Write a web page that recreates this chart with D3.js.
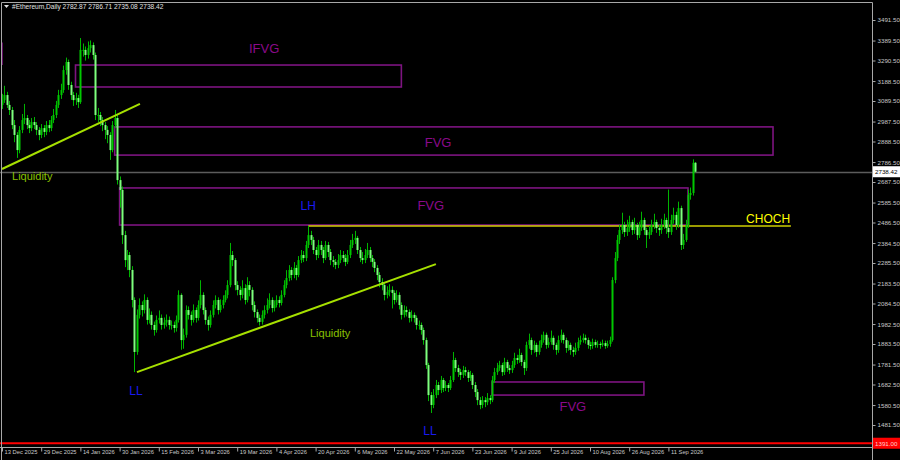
<!DOCTYPE html>
<html><head><meta charset="utf-8">
<script src="https://cdn.jsdelivr.net/npm/d3@7/dist/d3.min.js"></script>
<style>
html,body{margin:0;padding:0;background:#000;overflow:hidden;}
svg{display:block;}
text{font-family:"Liberation Sans",Arial,sans-serif;}
</style></head>
<body><svg id="c" width="900" height="460"></svg>
<script>
// ---------- DATA ----------
const symbol = "#Ethereum,Daily";
const ohlcLast = ["2782.87","2786.71","2735.08","2738.42"];
const firstOpen = 3070;
const closes = [3094,3119,3070,3045,2970,2921,2846,2946,2995,3005,2970,2955,2985,2970,2946,2921,2955,2936,2970,2955,
2995,3020,3070,3119,3144,3243,3283,3169,3119,3094,3104,3084,3343,3343,3318,3352,3367,3318,3020,3020,
2995,2970,2946,2921,2846,2970,3005,2697,2648,2424,2300,2325,2251,2102,1844,2028,2077,2052,2102,2003,
2028,1978,1953,2003,2013,1978,1990,2003,1978,1978,1963,2003,2127,1903,1929,2052,2028,2003,2052,2013,
2077,2127,2052,2003,1978,2028,2077,2102,2052,2077,2102,2127,2176,2325,2300,2176,2152,2127,2161,2102,
2176,2152,2077,2042,2013,1993,2028,2052,2077,2102,2062,2077,2102,2087,2127,2176,2211,2251,2226,2261,
2226,2300,2325,2310,2375,2424,2400,2350,2325,2375,2350,2310,2375,2340,2300,2291,2276,2300,2325,2310,
2291,2325,2375,2400,2410,2350,2310,2300,2325,2350,2310,2291,2261,2226,2191,2176,2127,2142,2152,2137,
2102,2127,2077,2028,2052,2042,2013,2028,2013,1978,1978,1953,1903,1779,1630,1581,1630,1680,1655,1705,
1665,1680,1665,1705,1804,1764,1744,1730,1754,1744,1715,1730,1680,1645,1605,1581,1605,1595,1615,1605,
1705,1744,1764,1779,1744,1794,1764,1754,1779,1814,1804,1829,1794,1764,1879,1903,1854,1879,1844,1879,
1903,1929,1879,1893,1914,1879,1854,1903,1929,1903,1864,1879,1854,1844,1864,1893,1903,1914,1903,1879,
1874,1893,1879,1884,1879,1888,1874,1884,1903,2201,2310,2400,2449,2474,2439,2459,2489,2449,2474,2424,
2459,2499,2449,2424,2439,2474,2489,2459,2449,2474,2499,2459,2439,2499,2524,2474,2558,2375,2400,2474,
2623,2633,2782.87,2738.42];
const highs = [3125,3165,3135,3090,3060,2995,2935,2965,3025,3075,3020,2995,3005,3010,2985,2960,2975,2970,2990,2995,
3015,3050,3090,3145,3175,3265,3305,3295,3185,3135,3130,3120,3402,3375,3360,3385,3390,3380,3330,3055,
3035,3010,2985,2965,2935,2990,3045,3020,2715,2665,2445,2350,2340,2270,2115,2055,2110,2095,2130,2115,
2060,2045,1995,2025,2050,2030,2015,2030,2020,2000,1995,2025,2150,2135,1960,2075,2070,2045,2080,2065,
2100,2200,2140,2065,2020,2050,2100,2125,2115,2105,2125,2150,2200,2385,2345,2310,2195,2170,2200,2180,
2215,2195,2165,2095,2055,2030,2050,2075,2110,2135,2115,2100,2125,2120,2150,2200,2250,2275,2265,2290,
2275,2320,2350,2345,2395,2470,2445,2415,2365,2400,2395,2365,2395,2390,2355,2320,2305,2330,2350,2345,
2330,2350,2400,2430,2445,2420,2365,2340,2355,2385,2365,2325,2305,2275,2240,2210,2190,2170,2180,2170,
2150,2150,2140,2090,2075,2070,2055,2050,2040,2025,2000,1990,1965,1915,1790,1645,1660,1705,1695,1725,
1715,1700,1690,1725,1844,1815,1780,1760,1775,1770,1755,1750,1740,1695,1660,1620,1625,1620,1640,1630,
1725,1765,1790,1800,1790,1815,1805,1780,1800,1840,1830,1860,1840,1805,1895,1935,1915,1900,1890,1900,
1930,1945,1940,1915,1950,1925,1890,1925,1955,1940,1915,1900,1890,1870,1890,1915,1925,1935,1930,1915,
1895,1910,1905,1900,1895,1905,1900,1900,1920,2215,2340,2425,2475,2535,2490,2500,2520,2500,2510,2485,
2490,2540,2510,2460,2470,2500,2530,2500,2475,2505,2530,2510,2650,2525,2560,2540,2590,2570,2430,2500,
2650,2660,2800,2786.71];
const lows = [3050,3080,3055,3020,2950,2885,2807,2830,2930,2975,2950,2930,2940,2950,2920,2895,2905,2910,2920,2935,
2940,2980,3005,3055,3100,3130,3220,3145,3095,3065,3070,3055,3075,3310,3290,3300,3330,3295,2995,2985,
2965,2940,2900,2880,2797,2835,2955,2675,2560,2380,2265,2250,2215,2065,1744,1830,2010,2020,2035,1980,
1985,1955,1925,1940,1985,1955,1960,1970,1955,1955,1940,1945,1990,1855,1860,1915,2005,1975,1990,1990,
2000,2060,2030,1980,1950,1965,2015,2060,2030,2040,2060,2090,2110,2165,2270,2150,2125,2100,2110,2080,
2090,2120,2050,2015,1990,1975,1980,2010,2035,2060,2040,2045,2065,2065,2075,2115,2160,2195,2200,2210,
2200,2215,2285,2290,2295,2360,2375,2330,2300,2310,2325,2285,2300,2315,2275,2265,2255,2260,2285,2290,
2270,2280,2310,2360,2380,2330,2290,2280,2285,2310,2290,2265,2240,2200,2165,2150,2100,2110,2120,2060,
2080,2090,2055,2005,2015,2020,1990,1995,1990,1955,1955,1930,1880,1760,1600,1541,1565,1615,1630,1640,
1645,1650,1645,1655,1695,1745,1720,1705,1715,1725,1695,1700,1660,1620,1580,1560,1565,1570,1580,1585,
1595,1690,1730,1750,1725,1730,1745,1735,1740,1765,1785,1790,1775,1730,1750,1860,1830,1840,1820,1830,
1865,1890,1860,1865,1880,1855,1830,1840,1890,1885,1840,1850,1830,1820,1830,1850,1880,1890,1885,1860,
1855,1860,1865,1865,1860,1870,1860,1865,1870,1895,2185,2295,2380,2430,2415,2420,2440,2425,2430,2400,
2410,2445,2425,2360,2405,2425,2455,2435,2420,2430,2455,2430,2410,2425,2480,2450,2460,2350,2355,2390,
2460,2600,2620,2735.08];
const priceTicks = ["3491.50","3389.50","3290.50","3188.50","3089.50","2987.50","2888.50","2786.50","2687.50","2585.50","2486.50",
"2384.50","2285.50","2183.50","2084.50","1982.50","1883.50","1781.50","1682.50","1580.50","1481.50"];
const dateTicks = ["13 Dec 2025","29 Dec 2025","14 Jan 2026","30 Jan 2026","15 Feb 2026","3 Mar 2026","19 Mar 2026","4 Apr 2026",
"20 Apr 2026","6 May 2026","22 May 2026","7 Jun 2026","23 Jun 2026","9 Jul 2026","25 Jul 2026","10 Aug 2026","26 Aug 2026","11 Sep 2026"];
const dateTickIdx = [0,16,32,48,64,80,96,112,128,144,160,176,192,208,224,240,256,272];
const currentPrice = 2738.42;
const redLevel = 1391.00;
const zoneNames = ["IFVG","FVG","FVG","FVG"];
const zoneStart = [30,46,48,200];
const zoneEnd = [163,314.7,280,262];
const zoneTop = [3268,2961,2658,1695];
const zoneBottom = [3159,2821,2474,1630];
const zoneLabelIdx = [107,178,175,233];
const zoneLabelPrice = [3328,2861,2549,1551];
const leftEdgeSeg = [3380,3268];
const liquidityLines = [[0,2752,56.3,3075],[55.1,1744,177.1,2280]];
const liquidityLabels = [[4.1,2697],[125.7,1918]];
const choch = {from:125,to:322,price:2469,labelIdx:312.7,labelPrice:2484};
const structLabels = [["LH",125,2549],["LL",54.7,1630],["LL",174.7,1432]];

// ---------- DRAW ----------
const svg = d3.select("#c");
const W=900,H=460, plotR=872, plotB=447, plotT=2;
const N = closes.length;
const x = d3.scaleLinear().domain([0,N-1]).range([2,2+(N-1)*2.45]);
const y = d3.scaleLinear().domain([1481.5,3491.5]).range([425,20]);

const root = svg.append("g");
root.append("rect").attr("width",W).attr("height",H).attr("fill","#000");

root.append("line").attr("x1",0).attr("x2",plotR).attr("y1",Math.round(y(currentPrice))+0.5).attr("y2",Math.round(y(currentPrice))+0.5)
  .attr("stroke","#5c5c5c").attr("stroke-width",1.5);

const zc = "#7d1480";
zoneNames.forEach((n,k)=>{
  const x0=x(zoneStart[k]), x1=x(zoneEnd[k]), y0=y(zoneTop[k]), y1=y(zoneBottom[k]);
  root.append("rect").attr("x",x0).attr("y",y0).attr("width",x1-x0).attr("height",y1-y0)
    .attr("fill","none").attr("stroke",zc).attr("stroke-width",1.6);
  root.append("text").attr("x",x(zoneLabelIdx[k])).attr("y",y(zoneLabelPrice[k])).attr("text-anchor","middle")
    .attr("fill","#8a0a8a").attr("font-size",13).text(n);
});
root.append("line").attr("x1",2).attr("x2",2).attr("y1",y(leftEdgeSeg[0])).attr("y2",y(leftEdgeSeg[1]))
  .attr("stroke",zc).attr("stroke-width",1.6);

root.append("line").attr("x1",x(choch.from)).attr("x2",x(choch.to)).attr("y1",y(choch.price)).attr("y2",y(choch.price))
  .attr("stroke","#e6e600").attr("stroke-width",1.5).attr("opacity",0.9);
root.append("text").attr("x",x(choch.labelIdx)).attr("y",y(choch.labelPrice)).attr("text-anchor","middle")
  .attr("fill","#ffff00").attr("font-size",12).text("CHOCH");

const g = root.append("g");
for(let i=0;i<N;i++){
  const o = i===0?firstOpen:closes[i-1], c=closes[i];
  const bull = c>=o;
  const cx = Math.round(x(i));
  g.append("line").attr("x1",cx+0.5).attr("x2",cx+0.5).attr("y1",y(highs[i])).attr("y2",y(lows[i]))
    .attr("stroke","#00b400").attr("stroke-width",1);
  const yt=y(Math.max(o,c)), yb=y(Math.min(o,c));
  g.append("rect").attr("x",cx-0.5).attr("y",yt).attr("width",2).attr("height",Math.max(1,yb-yt))
    .attr("fill",bull?"#00c800":"#7dff7d");
}

liquidityLines.forEach(l=>{
  root.append("line").attr("x1",x(l[0])).attr("y1",y(l[1])).attr("x2",x(l[2])).attr("y2",y(l[3]))
    .attr("stroke","#a6e000").attr("stroke-width",2);
});
liquidityLabels.forEach(l=>{
  root.append("text").attr("x",x(l[0])).attr("y",y(l[1])).attr("fill","#8ac000").attr("font-size",11).text("Liquidity");
});
structLabels.forEach(s=>{
  root.append("text").attr("x",x(s[1])).attr("y",y(s[2])).attr("text-anchor","middle")
    .attr("fill","#1a1aee").attr("font-size",12).text(s[0]);
});

root.append("line").attr("x1",0).attr("x2",plotR).attr("y1",y(redLevel)).attr("y2",y(redLevel))
  .attr("stroke","#ff0000").attr("stroke-width",2);

const fc="#a8a8a8";
root.append("path").attr("d",`M1.5,${H}V${plotT+0.5}H${plotR+0.5}V${H}`).attr("fill","none").attr("stroke",fc).attr("stroke-width",1);
root.append("line").attr("x1",0).attr("x2",plotR).attr("y1",plotB+0.5).attr("y2",plotB+0.5).attr("stroke",fc);

const yAxis = d3.axisRight(y).tickValues(priceTicks.map(Number)).tickFormat((d,i)=>priceTicks[i]).tickSize(3).tickPadding(2);
const ya = root.append("g").attr("transform",`translate(${plotR+0.5},0)`).call(yAxis);
ya.select(".domain").remove();
ya.selectAll("line").attr("stroke",fc);
ya.selectAll("text").attr("fill","#c8c8c8").attr("font-size",6.2).attr("font-family","'Liberation Sans',Arial,sans-serif");

const xAxis = d3.axisBottom(x).tickValues(dateTickIdx).tickFormat((d,i)=>dateTicks[i]).tickSize(4);
const xa = root.append("g").attr("transform",`translate(0,${plotB+0.5})`).call(xAxis);
xa.select(".domain").remove();
xa.selectAll("line").attr("stroke",fc);
xa.selectAll("text").attr("fill","#c8c8c8").attr("font-size",5.8).attr("text-anchor","start").attr("dx",2).attr("dy",-0.5)
  .attr("font-family","'Liberation Sans',Arial,sans-serif");

function priceBox(p,txt,bg,fg){
  const yy=y(p);
  root.append("rect").attr("x",plotR+1).attr("y",yy-5.5).attr("width",27).attr("height",11).attr("fill",bg);
  root.append("text").attr("x",plotR+3).attr("y",yy+2.5).attr("fill",fg).attr("font-size",6.2).text(txt);
}
priceBox(currentPrice,currentPrice.toFixed(2),"#ffffff","#000");
priceBox(redLevel,redLevel.toFixed(2),"#ff0000","#ffd0d0");

root.append("path").attr("d","M4,5 L9,5 L6.5,8 Z").attr("fill","#e0e0e0");
root.append("text").attr("x",12).attr("y",9).attr("fill","#e0e0e0").attr("font-size",6.6)
  .text(symbol+"  "+ohlcLast.join(" "));
</script></body></html>
